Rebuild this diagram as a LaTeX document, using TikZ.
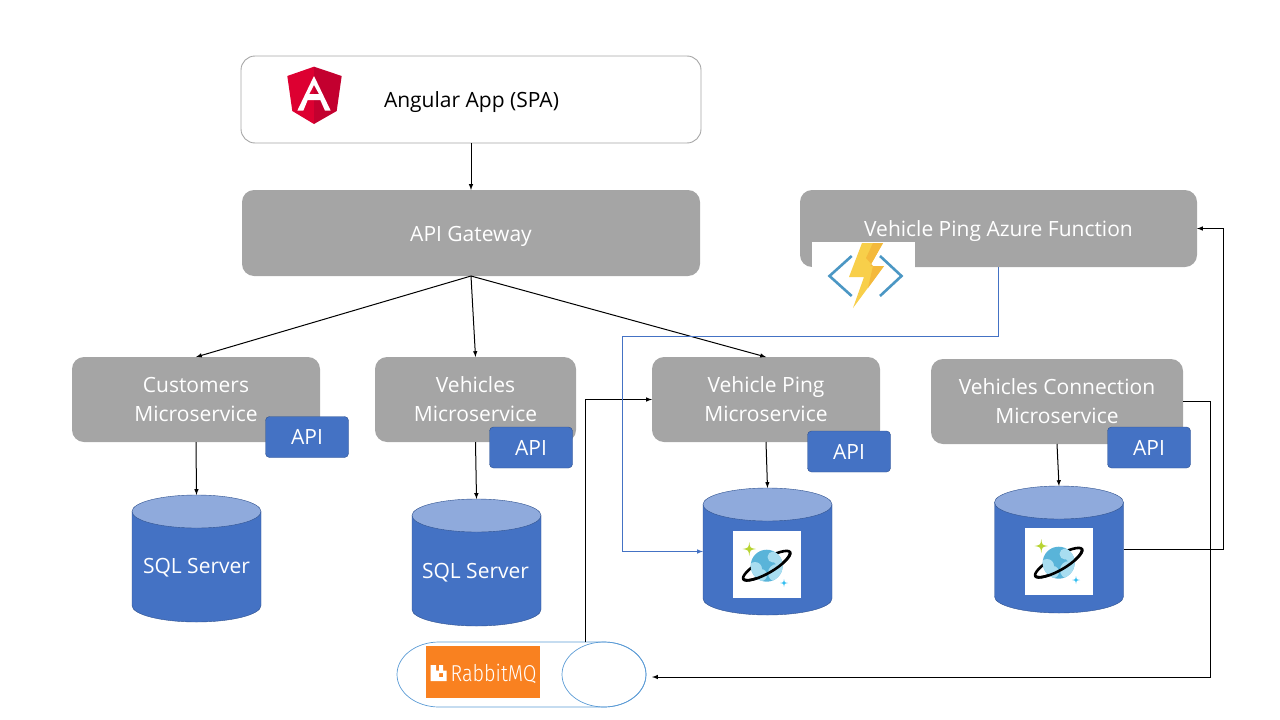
\documentclass[tikz,border=0pt]{standalone}
\usepackage{fontspec}
\setmainfont{Open Sans}
\newfontfamily\logofont{Fira Sans Light}
\usetikzlibrary{arrows}
\definecolor{boxgray}{HTML}{A5A5A5}
\definecolor{appedge}{HTML}{A6A6A6}
\definecolor{apiblue}{HTML}{4472C4}
\definecolor{apiedge}{HTML}{2F528F}
\definecolor{dbtop}{HTML}{8FAADC}
\definecolor{mqedge}{HTML}{5B9BD5}
\definecolor{mqorange}{HTML}{F98120}
\definecolor{angularred}{HTML}{DD0031}
\definecolor{angulardark}{HTML}{C3002F}
\definecolor{funcblue}{HTML}{4B97C4}
\definecolor{boltlight}{HTML}{F8CF4A}
\definecolor{boltdark}{HTML}{F4B93C}
\definecolor{planetblue}{HTML}{59B4D9}
\definecolor{planetcloud}{HTML}{A8DDF0}
\definecolor{sparkgreen}{HTML}{B8D432}
\definecolor{sparkblue}{HTML}{32BEF0}
\begin{document}
\begin{tikzpicture}[x=1pt,y=-1pt]
	\tikzstyle{service}=[rectangle,rounded corners=12pt,fill=boxgray,text=white,align=center,inner sep=0pt,outer sep=0pt,font=\fontsize{21}{29}\selectfont,execute at begin node=\rule{0pt}{22pt}]
	\tikzstyle{apibox}=[rectangle,rounded corners=4pt,fill=apiblue,draw=apiedge,text=white,minimum width=83pt,minimum height=41pt,inner sep=0pt,font=\fontsize{21}{24}\selectfont]
	\tikzstyle{database}=[rectangle,minimum width=129pt,minimum height=127pt,inner sep=0pt,outer sep=0pt]
	\tikzstyle{dblabel}=[text=white,inner sep=0pt,font=\fontsize{21}{24}\selectfont]
	\tikzstyle{tile}=[rectangle,fill=white,inner sep=0pt,outer sep=0pt,anchor=north west]
	\tikzstyle{link}=[black,-latex,line width=1pt]
	\useasboundingbox (0,0) rectangle (1280,720);
	\node[rectangle,rounded corners=14pt,draw=appedge,line width=0.9pt,fill=white,minimum width=460pt,minimum height=87pt,inner sep=0pt,outer sep=0pt] (app) at (471,99.5) {};
	\node[inner sep=0pt,font=\fontsize{21}{24}\selectfont] (apptext) at (471.5,102.5) {Angular App (SPA)};
	\fill[angularred] (314,66.7) -- (287.3,76) -- (292.3,111) -- (314,124) -- cycle;
	\fill[angulardark] (314,66.7) -- (341.7,76) -- (336.7,111) -- (314,124) -- cycle;
	\fill[white,even odd rule] (314,76) -- (297.3,110.7) -- (303.3,110.7) -- (307.7,100) -- (320.3,100) -- (325,110.7) -- (330.7,110.7) -- cycle (314,85) -- (319,94) -- (309.3,94) -- cycle;
	\node[service,minimum width=458pt,minimum height=86pt] (gateway) at (471,233) {API Gateway};
	\node[service,minimum width=397pt,minimum height=77pt] (func) at (998.5,228.5) {Vehicle Ping Azure Function};
	\node[tile,minimum width=103pt,minimum height=68pt] (functile) at (812,242) {};
	\draw[line width=2.6pt,funcblue] (851.7,256) -- (829.5,276) -- (851.7,296);
	\draw[line width=2.6pt,funcblue] (880,256) -- (901.5,276) -- (880,296);
	\fill[boltlight] (862,243) -- (883,243) -- (870,266) -- (884,266) -- (853,308) -- (864,277) -- (849,277) -- cycle;
	\fill[boltdark] (873,243) -- (883,243) -- (870,266) -- (884,266) -- (868,288) -- (873,266) -- (866,258) -- cycle;
	\node[service,minimum width=248pt,minimum height=85pt] (customers) at (196,399.5) {Customers\\Microservice};
	\node[service,minimum width=201pt,minimum height=85pt] (vehicles) at (475.5,399.5) {Vehicles\\Microservice};
	\node[service,minimum width=228pt,minimum height=85pt] (ping) at (766,399.5) {Vehicle Ping\\Microservice};
	\node[service,minimum width=252pt,minimum height=85pt] (connection) at (1057,401.5) {Vehicles Connection\\Microservice};
	\node[apibox] (api1) at (307,437) {API};
	\node[apibox] (api2) at (531,447.5) {API};
	\node[apibox] (api3) at (849,451.5) {API};
	\node[apibox] (api4) at (1149,447.5) {API};
	\foreach \name/\cx/\cy in {db1/196.5/558.5,db2/476.5/562.5,db3/767.5/551.5,db4/1059/549.5}
	{
		\node[database] (\name) at (\cx,\cy) {};
		\begin{scope}[shift={(\cx,\cy)}]
			\draw[fill=apiblue,draw=apiedge] (-64.5,-47) -- (-64.5,47) arc[start angle=180,end angle=0,x radius=64.5,y radius=16.5] -- (64.5,-47) -- cycle;
			\draw[fill=dbtop,draw=apiedge] (0,-47) ellipse (64.5 and 16.5);
		\end{scope}
	}
	\node[dblabel] (db1text) at (196.5,568) {SQL Server};
	\node[dblabel] (db2text) at (475.5,573) {SQL Server};
	\foreach \name/\tx/\ty in {pingtile/733/531,conntile/1025/528}
	{
		\node[tile,minimum width=68pt,minimum height=67pt] (\name) at (\tx,\ty) {};
		\begin{scope}[shift={(\tx,\ty)}]
			\draw[black,line width=2.6pt,rotate around={30:(33.7,34.7)}] (33.7,34.7) ellipse (27 and 7);
			\fill[planetblue] (33.7,34.7) circle (16);
			\begin{scope}
				\clip (33.7,34.7) circle (16);
				\fill[planetcloud] (22,38) circle (7);
				\fill[planetcloud] (28,44) circle (6);
				\fill[planetcloud] (40,26) circle (5.5);
				\fill[planetcloud] (46,28) circle (6);
				\fill[planetcloud] (44,42) circle (9);
			\end{scope}
			\fill[sparkgreen] (16.3,11) .. controls (17,17) .. (23,18) .. controls (17,19) .. (16.3,25) .. controls (15.5,19) .. (9.5,18) .. controls (15.5,17) .. (16.3,11);
			\fill[sparkblue] (51,48) .. controls (51.5,51.5) .. (55,52) .. controls (51.5,52.5) .. (51,56) .. controls (50.5,52.5) .. (47,52) .. controls (50.5,51.5) .. (51,48);
			\draw[black,line width=2.6pt,rotate around={30:(33.7,34.7)}] (6.7,34.7) .. controls (12,44.5) and (55,44.5) .. (60.7,34.7);
		\end{scope}
	}
	\node[rectangle,minimum width=249pt,minimum height=65pt,inner sep=0pt,outer sep=0pt] (rabbit) at (521.5,674.5) {};
	\draw[mqedge,line width=0.7pt] (439,642) -- (604,642) arc[start angle=-90,end angle=90,x radius=42,y radius=32.5] -- (439,707) arc[start angle=90,end angle=270,x radius=42,y radius=32.5];
	\draw[mqedge,line width=0.7pt] (604,674.5) ellipse (42 and 32.5);
	\node[tile,fill=mqorange,minimum width=114pt,minimum height=52pt] (logo) at (426,646) {};
	\node[text=white,inner sep=0pt,xscale=0.86,font=\logofont\fontsize{23}{24}\selectfont] (logotext) at (493.5,674) {RabbitMQ};
	\fill[white,even odd rule] (430.5,665) -- (436,665) -- (436,670.5) -- (439,670.5) -- (439,665) -- (443,665) -- (443,670.5) -- (446.5,670.5) -- (446.5,681) -- (430.5,681) -- cycle (439,673) rectangle (443,677);
	\coordinate (rabbitout) at (585,642);
	\coordinate (rabbitin) at (652,677);
	\coordinate (leftrail) at (622,336);
	\coordinate (midrail) at (1210,677);
	\coordinate (rightrail) at (1223,549.5);
	\draw[link] (app.south) -- (gateway.north);
	\draw[link] (gateway.south) -- (customers.north);
	\draw[link] (gateway.south) -- (vehicles.north);
	\draw[link] (gateway.south) -- (ping.north);
	\draw[link] (customers.south) -- (db1.north);
	\draw[link] (vehicles.south) -- (db2.north);
	\draw[link] (ping.south) -- (db3.north);
	\draw[link] (connection.south) -- (db4.north);
	\draw[link] (rabbitout) |- (ping.west);
	\draw[link] (connection.east) -| (midrail) -- (rabbitin);
	\draw[link] (db4.east) -- (rightrail) |- (func.east);
	\draw[link,color=apiblue] (func.south) |- (leftrail) |- (db3.west);
\end{tikzpicture}
\end{document}
